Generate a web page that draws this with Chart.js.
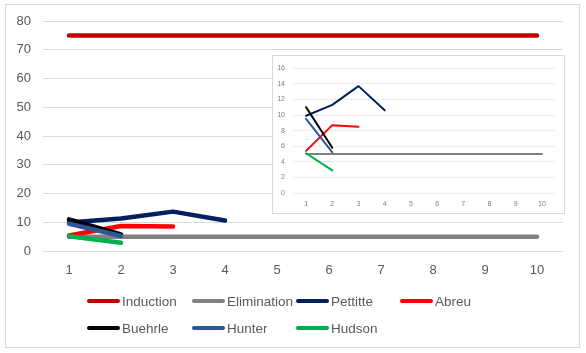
<!DOCTYPE html>
<html>
<head>
<meta charset="utf-8">
<script src="https://cdn.jsdelivr.net/npm/chart.js@4.4.1/dist/chart.umd.min.js"></script>
<style>
  body { margin: 0; background: #fff; font-family: "Liberation Sans", Arial, sans-serif; }
  #lienzo { position: relative; width: 586px; height: 353px; overflow: hidden; background: #fff; }
  #marco { position: absolute; left: 5px; top: 4px; width: 575px; height: 344px; border: 1px solid #d9d9d9; box-sizing: border-box; }
  #cvPrincipal { position: absolute; left: 0; top: 0; }
  #recuadro { position: absolute; left: 272px; top: 55px; width: 293px; height: 159px; background: #fff; border: 1px solid #d9d9d9; box-sizing: border-box; }
  #cvRecuadro { position: absolute; left: 0; top: 0; }
  .leyenda { position: absolute; display: flex; align-items: center; font-size: 13.5px; color: #595959; white-space: nowrap; }
  .leyenda i { display: inline-block; width: 33px; height: 4.5px; border-radius: 2px; margin-right: 2px; }
</style>
</head>
<body>
<div id="lienzo">
  <div id="marco"></div>
  <canvas id="cvPrincipal" width="586" height="353"></canvas>
  <div id="recuadro"><canvas id="cvRecuadro" width="291" height="157"></canvas></div>
  <div id="leyendaCaja"></div>
</div>
<script>
// valores
const categorias = [1, 2, 3, 4, 5, 6, 7, 8, 9, 10];
const induction   = [75, 75, 75, 75, 75, 75, 75, 75, 75, 75];
const elimination = [5, 5, 5, 5, 5, 5, 5, 5, 5, 5];
const pettitte    = [9.9, 11.3, 13.7, 10.6];
const abreu       = [5.4, 8.7, 8.5];
const buehrle     = [11.0, 5.8];
const hunter      = [9.5, 5.2];
const hudson      = [5.1, 2.9];

const series = [
  { nombre: "Induction",   datos: induction,   color: "#c00000", recuadro: false },
  { nombre: "Elimination", datos: elimination, color: "#808080", recuadro: true },
  { nombre: "Pettitte",    datos: pettitte,    color: "#002060", recuadro: true },
  { nombre: "Abreu",       datos: abreu,       color: "#ff0000", recuadro: true },
  { nombre: "Buehrle",     datos: buehrle,     color: "#000000", recuadro: true },
  { nombre: "Hunter",      datos: hunter,      color: "#2f5597", recuadro: true },
  { nombre: "Hudson",      datos: hudson,      color: "#00b050", recuadro: true }
];

// como en Excel: la ultima serie queda encima
function armarDatasets(lista, grosor) {
  return lista.map((s, i) => ({
    label: s.nombre,
    data: s.datos,
    order: lista.length - i,
    borderColor: s.color,
    backgroundColor: s.color,
    borderWidth: grosor,
    borderCapStyle: "round",
    borderJoinStyle: "round",
    pointRadius: 0,
    tension: 0,
    fill: false
  }));
}

// Grafico principal
new Chart(document.getElementById("cvPrincipal"), {
  type: "line",
  data: { labels: categorias, datasets: armarDatasets(series, 4.5) },
  options: {
    responsive: false,
    animation: false,
    layout: { padding: { left: 0, right: 23, top: 21, bottom: 72 } },
    plugins: { legend: { display: false }, tooltip: { enabled: false } },
    scales: {
      x: {
        offset: true,
        grid: { display: false, drawTicks: false },
        border: { display: false },
        ticks: { color: "#595959", font: { family: "Liberation Sans", size: 13 }, padding: 12, maxRotation: 0 },
        afterFit: s => { s.height = 30; }
      },
      y: {
        min: 0, max: 80,
        grid: { color: "#d9d9d9", lineWidth: 1, drawTicks: false },
        border: { display: false },
        ticks: { stepSize: 10, color: "#595959", font: { family: "Liberation Sans", size: 13 }, padding: 12 },
        afterFit: s => { s.width = 43; }
      }
    }
  }
});

// Grafico insertado (sin Induction)
new Chart(document.getElementById("cvRecuadro"), {
  type: "line",
  data: { labels: categorias, datasets: armarDatasets(series.filter(s => s.recuadro), 2) },
  options: {
    responsive: false,
    animation: false,
    layout: { padding: { left: 0, right: 9, top: 8, bottom: 0 } },
    plugins: { legend: { display: false }, tooltip: { enabled: false } },
    scales: {
      x: {
        offset: true,
        grid: { display: false, drawTicks: false },
        border: { display: false },
        ticks: { color: "#7f7f7f", font: { family: "Liberation Sans", size: 7 }, padding: 7, maxRotation: 0 },
        afterFit: s => { s.height = 20; }
      },
      y: {
        min: 0, max: 16,
        grid: { color: "#ebebeb", lineWidth: 1, drawTicks: false },
        border: { display: false },
        ticks: { stepSize: 2, color: "#7f7f7f", font: { family: "Liberation Sans", size: 7 }, padding: 8 },
        afterFit: s => { s.width = 20; }
      }
    }
  }
});

// Leyenda en columnas fijas
const cajaLeyenda = document.getElementById("leyendaCaja");
const columnasX = [87, 192, 296, 400];
const filasY = [301, 328];
series.forEach((s, i) => {
  const el = document.createElement("div");
  el.className = "leyenda";
  el.style.left = columnasX[i % 4] + "px";
  el.style.top = (filasY[Math.floor(i / 4)] - 9) + "px";
  el.style.height = "18px";
  el.innerHTML = `<i style="background:${s.color}"></i>${s.nombre}`;
  cajaLeyenda.appendChild(el);
});
</script>
</body>
</html>
